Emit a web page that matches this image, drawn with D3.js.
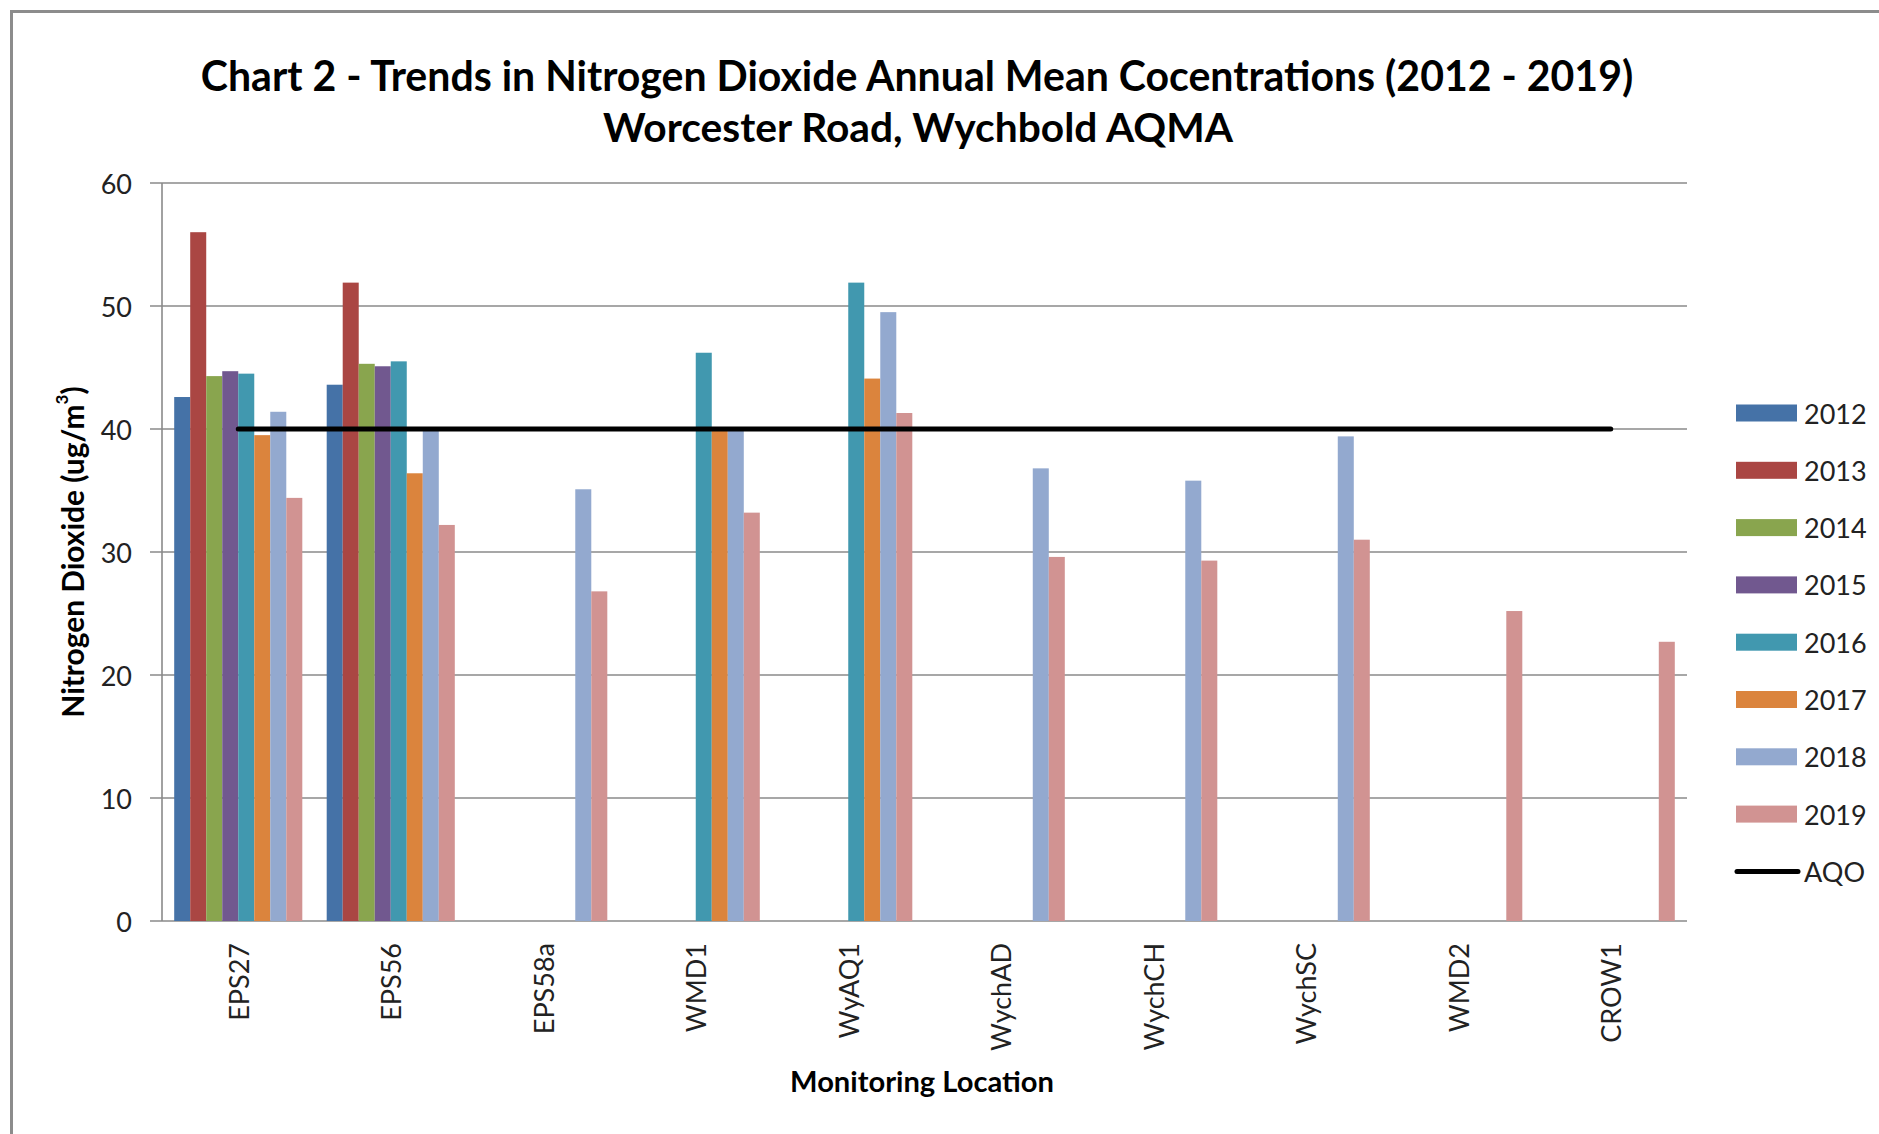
<!DOCTYPE html>
<html>
<head>
<meta charset="utf-8">
<script src="https://cdn.jsdelivr.net/npm/d3@7"></script>
<style>
  body { margin: 0; background: #fff; }
  text { font-family: Lato, "Open Sans", sans-serif; fill: #000; }
</style>
</head>
<body>
<div id="chart"></div>
<script>
const locations = ["EPS27", "EPS56", "EPS58a", "WMD1", "WyAQ1", "WychAD", "WychCH", "WychSC", "WMD2", "CROW1"];
const years = ["2012", "2013", "2014", "2015", "2016", "2017", "2018", "2019"];
const yearColors = ["#4572A7", "#AA4643", "#89A54E", "#71588F", "#4198AF", "#DB843D", "#93A9CF", "#D19392"];

const v2012 = [42.6, 43.6, null, null, null, null, null, null, null, null];
const v2013 = [56.0, 51.9, null, null, null, null, null, null, null, null];
const v2014 = [44.3, 45.3, null, null, null, null, null, null, null, null];
const v2015 = [44.7, 45.1, null, null, null, null, null, null, null, null];
const v2016 = [44.5, 45.5, null, 46.2, 51.9, null, null, null, null, null];
const v2017 = [39.5, 36.4, null, 40.0, 44.1, null, null, null, null, null];
const v2018 = [41.4, 39.9, 35.1, 39.9, 49.5, 36.8, 35.8, 39.4, null, null];
const v2019 = [34.4, 32.2, 26.8, 33.2, 41.3, 29.6, 29.3, 31.0, 25.2, 22.7];
const aqo = 40;
const yTicks = [0, 10, 20, 30, 40, 50, 60];

(function () {
    const W = 1879, H = 1134;
    const plot = { left: 162, right: 1687, top: 183, bottom: 921 };
    const series = [v2012, v2013, v2014, v2015, v2016, v2017, v2018, v2019];

    const svg = d3.select("#chart").append("svg")
        .attr("width", W)
        .attr("height", H);

    // outer frame (runs off the right and bottom edge)
    svg.append("rect")
        .attr("x", 11.5).attr("y", 11.5)
        .attr("width", W + 20).attr("height", H + 20)
        .attr("fill", "#fff")
        .attr("stroke", "#8c8c8c")
        .attr("stroke-width", 3);

    const x0 = d3.scaleBand().domain(locations).range([plot.left, plot.right]).padding(0);
    const groupW = x0.bandwidth() * 0.84;
    const x1 = d3.scaleBand().domain(years)
        .range([(x0.bandwidth() - groupW) / 2, (x0.bandwidth() + groupW) / 2]);
    const y = d3.scaleLinear().domain([0, 60]).range([plot.bottom, plot.top]);

    // gridlines + y labels
    svg.append("g").selectAll("line")
        .data(yTicks)
        .enter().append("line")
        .attr("x1", plot.left - 12).attr("x2", plot.right)
        .attr("y1", d => y(d)).attr("y2", d => y(d))
        .attr("stroke", "#8a8a8a")
        .attr("stroke-width", 1.6);

    svg.append("g").selectAll("text")
        .data(yTicks)
        .enter().append("text")
        .attr("x", 132)
        .attr("y", d => y(d))
        .attr("text-anchor", "end")
        .attr("dominant-baseline", "central")
        .style("font-size", "27px")
        .style("fill", "#222")
        .text(d => d);

    svg.append("line")
        .attr("x1", plot.left).attr("x2", plot.left)
        .attr("y1", plot.top).attr("y2", plot.bottom)
        .attr("stroke", "#8a8a8a")
        .attr("stroke-width", 1.6);

    // bars
    const barData = [];
    series.forEach((vals, si) => {
        vals.forEach((v, li) => {
            if (v != null) barData.push({ loc: locations[li], year: years[si], value: v, color: yearColors[si] });
        });
    });

    svg.append("g").selectAll("rect")
        .data(barData)
        .enter().append("rect")
        .attr("x", d => x0(d.loc) + x1(d.year))
        .attr("y", d => y(d.value))
        .attr("width", x1.bandwidth())
        .attr("height", d => y(0) - y(d.value))
        .attr("fill", d => d.color);

    // AQO line
    svg.append("line")
        .attr("x1", x0(locations[0]) + x0.bandwidth() / 2)
        .attr("x2", x0(locations[locations.length - 1]) + x0.bandwidth() / 2)
        .attr("y1", y(aqo)).attr("y2", y(aqo))
        .attr("stroke", "#000")
        .attr("stroke-width", 5)
        .attr("stroke-linecap", "round");

    // x labels
    svg.append("g").selectAll("text")
        .data(locations)
        .enter().append("text")
        .attr("transform", d => `translate(${x0(d) + x0.bandwidth() / 2},943) rotate(-90)`)
        .attr("text-anchor", "end")
        .attr("dominant-baseline", "central")
        .style("font-size", "27px")
        .style("fill", "#222")
        .text(d => d);

    function fit(sel, target) {
        const w = sel.node().getComputedTextLength();
        const fs = parseFloat(sel.style("font-size"));
        sel.style("font-size", (fs * target / w) + "px");
    }

    const t1 = svg.append("text")
        .attr("x", 917).attr("y", 91)
        .attr("text-anchor", "middle")
        .style("font-size", "40px").style("font-weight", "bold")
        .text("Chart 2 - Trends in Nitrogen Dioxide Annual Mean Cocentrations (2012 - 2019)");
    fit(t1, 1433);

    const t2 = svg.append("text")
        .attr("x", 918).attr("y", 142)
        .attr("text-anchor", "middle")
        .style("font-size", "40px").style("font-weight", "bold")
        .text("Worcester Road, Wychbold AQMA");
    fit(t2, 630);

    const xt = svg.append("text")
        .attr("x", 922).attr("y", 1080)
        .attr("text-anchor", "middle")
        .attr("dominant-baseline", "central")
        .style("font-size", "26px").style("font-weight", "bold")
        .text("Monitoring Location");
    fit(xt, 264);

    const yt = svg.append("text")
        .attr("transform", "translate(72,552) rotate(-90)")
        .attr("text-anchor", "middle")
        .attr("dominant-baseline", "central")
        .style("font-size", "26px").style("font-weight", "bold");
    yt.append("tspan").text("Nitrogen Dioxide (ug/m");
    yt.append("tspan").attr("baseline-shift", "super").style("font-size", "17px").text("3");
    yt.append("tspan").text(")");
    fit(yt, 333);

    // legend
    const rowH = 57.3, legTop = 413;
    const leg = svg.append("g");
    years.forEach((yr, i) => {
        const cy = legTop + i * rowH;
        leg.append("rect")
            .attr("x", 1736).attr("y", cy - 8.5)
            .attr("width", 61).attr("height", 17)
            .attr("fill", yearColors[i]);
        leg.append("text")
            .attr("x", 1804).attr("y", cy)
            .attr("dominant-baseline", "central")
            .style("font-size", "27px")
            .style("fill", "#222")
            .text(yr);
    });
    const aqoY = legTop + years.length * rowH;
    leg.append("line")
        .attr("x1", 1737).attr("x2", 1798)
        .attr("y1", aqoY).attr("y2", aqoY)
        .attr("stroke", "#000").attr("stroke-width", 5)
        .attr("stroke-linecap", "round");
    leg.append("text")
        .attr("x", 1804).attr("y", aqoY)
        .attr("dominant-baseline", "central")
        .style("font-size", "27px")
        .style("fill", "#222")
        .text("AQO");
})();
</script>
</body>
</html>
